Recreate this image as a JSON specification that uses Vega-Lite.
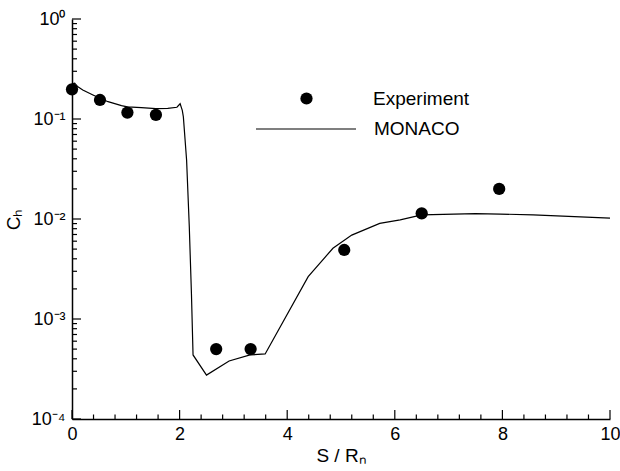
{
  "$schema": "https://vega.github.io/schema/vega-lite/v6.json",
  "width": 538,
  "height": 400,
  "autosize": {"type": "none"},
  "padding": {"left": 72, "top": 19, "right": 10, "bottom": 52},
  "background": "white",
  "datasets": {
    "curve": [
      {"series": "MONACO", "x": 0.0, "y": 0.225},
      {"series": "MONACO", "x": 0.05, "y": 0.228},
      {"series": "MONACO", "x": 0.11, "y": 0.21},
      {"series": "MONACO", "x": 0.2, "y": 0.195},
      {"series": "MONACO", "x": 0.39, "y": 0.174},
      {"series": "MONACO", "x": 0.52, "y": 0.161},
      {"series": "MONACO", "x": 0.67, "y": 0.149},
      {"series": "MONACO", "x": 0.92, "y": 0.136},
      {"series": "MONACO", "x": 1.03, "y": 0.132},
      {"series": "MONACO", "x": 1.29, "y": 0.13},
      {"series": "MONACO", "x": 1.56, "y": 0.127},
      {"series": "MONACO", "x": 1.78, "y": 0.128},
      {"series": "MONACO", "x": 1.95, "y": 0.131},
      {"series": "MONACO", "x": 2.01, "y": 0.142},
      {"series": "MONACO", "x": 2.05, "y": 0.122},
      {"series": "MONACO", "x": 2.07, "y": 0.105},
      {"series": "MONACO", "x": 2.13, "y": 0.0389},
      {"series": "MONACO", "x": 2.18, "y": 0.0084},
      {"series": "MONACO", "x": 2.22, "y": 0.0018},
      {"series": "MONACO", "x": 2.25, "y": 0.000437},
      {"series": "MONACO", "x": 2.5, "y": 0.000275},
      {"series": "MONACO", "x": 2.92, "y": 0.00038},
      {"series": "MONACO", "x": 3.31, "y": 0.000437},
      {"series": "MONACO", "x": 3.59, "y": 0.000447},
      {"series": "MONACO", "x": 4.39, "y": 0.00265},
      {"series": "MONACO", "x": 4.85, "y": 0.0051},
      {"series": "MONACO", "x": 5.2, "y": 0.0069},
      {"series": "MONACO", "x": 5.72, "y": 0.00905},
      {"series": "MONACO", "x": 6.1, "y": 0.0098},
      {"series": "MONACO", "x": 6.5, "y": 0.011},
      {"series": "MONACO", "x": 6.9, "y": 0.0111},
      {"series": "MONACO", "x": 7.5, "y": 0.0113},
      {"series": "MONACO", "x": 7.96, "y": 0.0112},
      {"series": "MONACO", "x": 8.57, "y": 0.011},
      {"series": "MONACO", "x": 10.0, "y": 0.0102}
    ],
    "experiment": [
      {"series": "Experiment", "x": 0.0, "y": 0.198},
      {"series": "Experiment", "x": 0.52, "y": 0.155},
      {"series": "Experiment", "x": 1.03, "y": 0.116},
      {"series": "Experiment", "x": 1.56, "y": 0.11},
      {"series": "Experiment", "x": 2.68, "y": 0.0005},
      {"series": "Experiment", "x": 3.32, "y": 0.0005},
      {"series": "Experiment", "x": 5.06, "y": 0.0049},
      {"series": "Experiment", "x": 6.5, "y": 0.0114},
      {"series": "Experiment", "x": 7.94, "y": 0.02}
    ],
    "xmajor": [{"v": 0}, {"v": 2}, {"v": 4}, {"v": 6}, {"v": 8}, {"v": 10}],
    "xminor": [
      {"v": 0.4}, {"v": 0.8}, {"v": 1.2}, {"v": 1.6}, {"v": 2.4}, {"v": 2.8}, {"v": 3.2}, {"v": 3.6},
      {"v": 4.4}, {"v": 4.8}, {"v": 5.2}, {"v": 5.6}, {"v": 6.4}, {"v": 6.8}, {"v": 7.2}, {"v": 7.6},
      {"v": 8.4}, {"v": 8.8}, {"v": 9.2}, {"v": 9.6}
    ],
    "ymajor": [{"v": 0.0001}, {"v": 0.001}, {"v": 0.01}, {"v": 0.1}, {"v": 1}],
    "yminor": [
      {"v": 0.0002}, {"v": 0.0003}, {"v": 0.0004}, {"v": 0.0005}, {"v": 0.0006}, {"v": 0.0007}, {"v": 0.0008}, {"v": 0.0009},
      {"v": 0.002}, {"v": 0.003}, {"v": 0.004}, {"v": 0.005}, {"v": 0.006}, {"v": 0.007}, {"v": 0.008}, {"v": 0.009},
      {"v": 0.02}, {"v": 0.03}, {"v": 0.04}, {"v": 0.05}, {"v": 0.06}, {"v": 0.07}, {"v": 0.08}, {"v": 0.09},
      {"v": 0.2}, {"v": 0.3}, {"v": 0.4}, {"v": 0.5}, {"v": 0.6}, {"v": 0.7}, {"v": 0.8}, {"v": 0.9}
    ]
  },
  "config": {
    "view": {"stroke": null},
    "font": "Liberation Sans",
    "axis": {
      "grid": false,
      "domainColor": "black",
      "domainWidth": 1.5,
      "ticks": false,
      "tickSize": 0,
      "labelColor": "black",
      "titleColor": "black",
      "labelFont": "Liberation Sans",
      "titleFont": "Liberation Sans",
      "labelFontSize": 18,
      "titleFontSize": 19,
      "titleFontWeight": "normal"
    }
  },
  "layer": [
    {
      "data": {"name": "curve"},
      "mark": {"type": "line", "color": "black", "strokeWidth": 1.2},
      "encoding": {
        "x": {
          "field": "x", "type": "quantitative",
          "scale": {"domain": [0, 10], "nice": false, "zero": false},
          "axis": {
            "orient": "bottom",
            "title": "S / Rₙ",
            "values": [0, 2, 4, 6, 8, 10],
            "labelPadding": 6,
            "labelFlush": false,
            "labelOverlap": false,
            "titlePadding": 3
          }
        },
        "y": {
          "field": "y", "type": "quantitative",
          "scale": {"type": "log", "domain": [0.0001, 1], "nice": false},
          "axis": {
            "orient": "left",
            "title": "Cₕ",
            "values": [0.0001, 0.001, 0.01, 0.1, 1],
            "labelExpr": "datum.value > 0.5 ? '10⁰' : datum.value > 0.05 ? '10⁻¹' : datum.value > 0.005 ? '10⁻²' : datum.value > 0.0005 ? '10⁻³' : '10⁻⁴'",
            "labelPadding": 7,
            "labelOverlap": false,
            "labelFlush": false,
            "titlePadding": 8
          }
        },
        "color": {
          "field": "series", "type": "nominal",
          "scale": {"range": ["black"]},
          "legend": {
            "orient": "none",
            "legendX": 183,
            "legendY": 59,
            "title": null,
            "padding": 0,
            "symbolType": "stroke",
            "symbolSize": 10000,
            "symbolStrokeWidth": 1.2,
            "symbolStrokeColor": "#333333",
            "labelOffset": 17,
            "labelFont": "Liberation Sans",
            "labelFontSize": 19,
            "labelColor": "black"
          }
        }
      }
    },
    {
      "data": {"name": "experiment"},
      "mark": {"type": "point", "filled": true, "color": "black", "opacity": 1, "size": 150},
      "encoding": {
        "x": {"field": "x", "type": "quantitative"},
        "y": {"field": "y", "type": "quantitative"},
        "shape": {
          "field": "series", "type": "nominal",
          "scale": {"range": ["circle"]},
          "legend": {
            "orient": "none",
            "legendX": 225,
            "legendY": 70,
            "title": null,
            "padding": 0,
            "symbolSize": 150,
            "symbolFillColor": "black",
            "symbolStrokeColor": "black",
            "symbolOpacity": 1,
            "labelOffset": 57,
            "labelFont": "Liberation Sans",
            "labelFontSize": 19,
            "labelColor": "black"
          }
        }
      }
    },
    {
      "data": {"name": "xmajor"},
      "mark": {"type": "tick", "orient": "vertical", "color": "black", "size": 9, "thickness": 1.2, "yOffset": -4.5, "opacity": 1},
      "encoding": {
        "x": {"field": "v", "type": "quantitative"},
        "y": {"datum": 0.0001}
      }
    },
    {
      "data": {"name": "xminor"},
      "mark": {"type": "tick", "orient": "vertical", "color": "black", "size": 4.5, "thickness": 1.2, "yOffset": -2.25, "opacity": 1},
      "encoding": {
        "x": {"field": "v", "type": "quantitative"},
        "y": {"datum": 0.0001}
      }
    },
    {
      "data": {"name": "ymajor"},
      "mark": {"type": "tick", "orient": "horizontal", "color": "black", "size": 9, "thickness": 1.2, "xOffset": 4.5, "opacity": 1},
      "encoding": {
        "x": {"datum": 0},
        "y": {"field": "v", "type": "quantitative"}
      }
    },
    {
      "data": {"name": "yminor"},
      "mark": {"type": "tick", "orient": "horizontal", "color": "black", "size": 5, "thickness": 1.2, "xOffset": 2.5, "opacity": 1},
      "encoding": {
        "x": {"datum": 0},
        "y": {"field": "v", "type": "quantitative"}
      }
    }
  ]
}
